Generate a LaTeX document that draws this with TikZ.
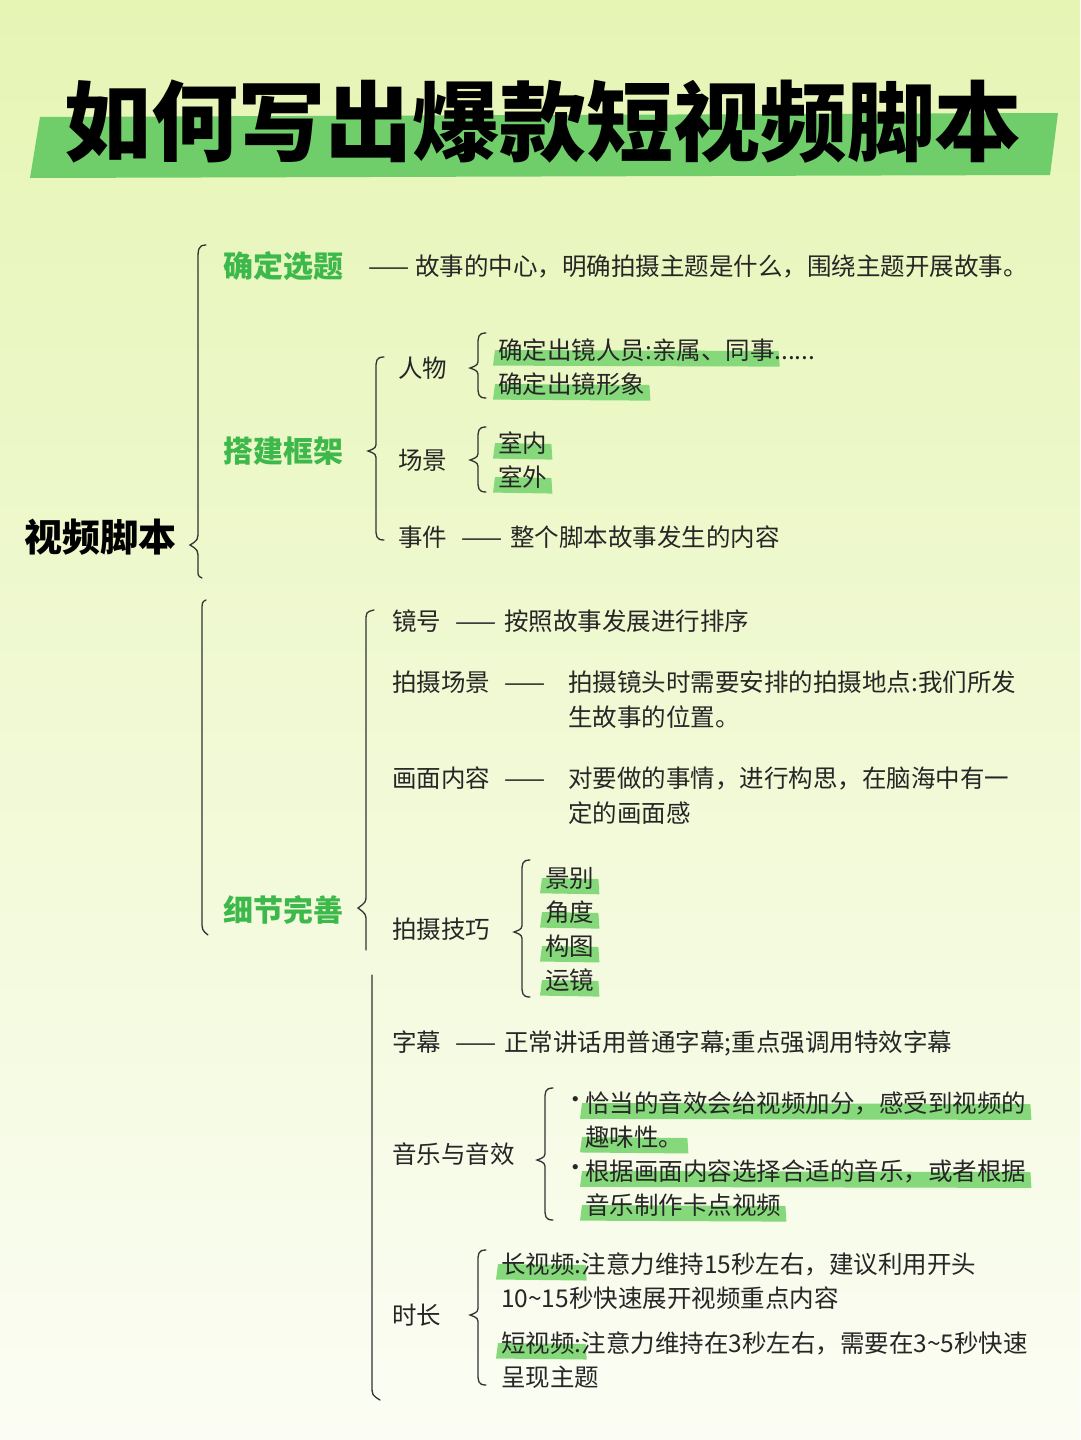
\documentclass[tikz,border=0pt]{standalone}
\usepackage{fontspec}
\setmainfont{Noto Sans CJK SC}
\usetikzlibrary{backgrounds}
\definecolor{bgtop}{HTML}{E6F5B4}
\definecolor{bgbot}{HTML}{FBFDF4}
\definecolor{gbar}{HTML}{6FCE6A}
\definecolor{glab}{HTML}{3DB84A}
\definecolor{hlc}{HTML}{86D97A}
\tikzset{
  txt/.style={anchor=west,inner sep=0pt,font=\fontsize{24.5}{28}\selectfont,text=black!85},
  glabel/.style={anchor=center,inner sep=0pt,font=\fontsize{30}{34}\selectfont\bfseries,text=glab},
  br/.style={draw=black!80,line width=1.3pt,line cap=round}
}
\newcommand\cbr[4]{% x, top, bottom, tip
  \draw[br] (#1+8,#2) .. controls (#1,#2) and (#1,#2+4) .. (#1,#2+12) -- (#1,#4-10)
    .. controls (#1,#4-3) .. (#1-8,#4) .. controls (#1,#4+3) .. (#1,#4+10)
    -- (#1,#3-12) .. controls (#1,#3-4) and (#1,#3) .. (#1+8,#3);}
\newcommand\hl[1]{\fill[hlc] ([xshift=-5pt,yshift=-4pt]#1.south west) -- ([xshift=5pt,yshift=-5pt]#1.south east) -- ([xshift=4pt,yshift=-1pt]#1.east) -- ([xshift=-3pt,yshift=0pt]#1.west) -- cycle;}
\begin{document}
\begin{tikzpicture}[x=1pt,y=-1pt]
\begin{pgfonlayer}{background}
\shade[top color=bgtop,bottom color=bgbot] (0,0) rectangle (1080,1440);
\end{pgfonlayer}
\useasboundingbox (0,0) rectangle (1080,1440);
\fill[gbar] (40,117) -- (1058,113) -- (1050,175) -- (30,178) -- cycle;
\node[inner sep=0pt,font=\fontsize{87}{92}\selectfont\bfseries] (title) at (543,122) {如何写出爆款短视频脚本};

\node[inner sep=0pt,font=\fontsize{38}{42}\selectfont\bfseries] (root) at (100,537) {视频脚本};
\draw[br] (206,245) .. controls (198,245) and (198,250) .. (198,260) -- (198,530)
  .. controls (198,540) .. (190,545) .. controls (198,550) .. (198,560) -- (198,570) .. controls (198,576) .. (202,578);
\draw[br] (206,600) .. controls (202,602) .. (202,612) -- (202,920) .. controls (202,930) .. (208,935);

\node[glabel] (a) at (283,266) {确定选题};
\node[glabel] (b) at (283,451) {搭建框架};
\node[glabel] (c) at (283,910) {细节完善};

\node[txt] (a1) at (368,266) {——\hspace{6pt}故事的中心，明确拍摄主题是什么，围绕主题开展故事。};

\cbr{376}{357}{540}{451}
\node[txt] (b1) at (398,368) {人物};
\node[txt] (b2) at (398,460) {场景};
\node[txt] (b3) at (398,537) {事件\hspace{14pt}——\hspace{8pt}整个脚本故事发生的内容};
\cbr{478}{333}{398}{368}
\cbr{478}{427}{492}{460}
\node[txt] (b11) at (498,350) {\phantom{确定出镜人员:亲属、同事}};
\node[txt] (b12) at (498,384) {\phantom{确定出镜形象}};
\node[txt] (b21) at (498,443) {\phantom{室内}};
\node[txt] (b22) at (498,477) {\phantom{室外}};
\hl{b11}\hl{b12}\hl{b21}\hl{b22}
\node[txt] at (498,350) {确定出镜人员:亲属、同事......};
\node[txt] at (498,384) {确定出镜形象};
\node[txt] at (498,443) {室内};
\node[txt] at (498,477) {室外};

\draw[br] (374,610) .. controls (366,612) .. (366,622) -- (366,895) .. controls (366,902) .. (358,908) .. controls (366,914) .. (366,922) -- (366,950);
\draw[br] (372,975) -- (372,1385) .. controls (372,1395) .. (380,1400);
\node[txt] (c1) at (392,621) {镜号\hspace{14pt}——\hspace{8pt}按照故事发展进行排序};
\node[txt] (c2) at (392,682) {拍摄场景\hspace{14pt}——};
\node[txt] (c2a) at (568,682) {拍摄镜头时需要安排的拍摄地点:我们所发};
\node[txt] (c2b) at (568,717) {生故事的位置。};
\node[txt] (c3) at (392,778) {画面内容\hspace{14pt}——};
\node[txt] (c3a) at (568,778) {对要做的事情，进行构思，在脑海中有一};
\node[txt] (c3b) at (568,813) {定的画面感};
\node[txt] (c4) at (392,929) {拍摄技巧};
\cbr{522}{860}{997}{932}
\node[txt] (c41) at (545,878) {景别};
\node[txt] (c42) at (545,912) {角度};
\node[txt] (c43) at (545,946) {构图};
\node[txt] (c44) at (545,980) {运镜};
\node[txt] (c5) at (392,1043) {字幕\hspace{14pt}——\hspace{8pt}正常讲话用普通字幕;重点强调用特效字幕};
\node[txt] (c6) at (392,1154) {音乐与音效};
\cbr{545}{1088}{1220}{1160}
\node[txt] (c61) at (585,1103) {恰当的音效会给视频加分，感受到视频的};
\node[txt] (c62) at (585,1137) {趣味性。};
\node[txt] (c63) at (585,1171) {根据画面内容选择合适的音乐，或者根据};
\node[txt] (c64) at (585,1205) {音乐制作卡点视频};
\node[txt] (d1) at (563,1103) {·};
\node[txt] (d2) at (563,1171) {·};
\node[txt] (c7) at (392,1315) {时长};
\cbr{478}{1250}{1385}{1315}
\node[txt] (c71h) at (501,1264) {\phantom{长视频:}};
\node[txt] (c73h) at (501,1343) {\phantom{短视频:}};
\begin{pgfonlayer}{background}
\hl{c41}\hl{c42}\hl{c43}\hl{c44}\hl{c61}\hl{c62}\hl{c63}\hl{c64}\hl{c71h}\hl{c73h}
\end{pgfonlayer}
\node[txt] (c71) at (501,1264) {长视频:注意力维持15秒左右，建议利用开头};
\node[txt] (c72) at (501,1298) {10\textasciitilde15秒快速展开视频重点内容};
\node[txt] (c73) at (501,1343) {短视频:注意力维持在3秒左右，需要在3\textasciitilde5秒快速};
\node[txt] (c74) at (501,1377) {呈现主题};
\end{tikzpicture}
\end{document}
